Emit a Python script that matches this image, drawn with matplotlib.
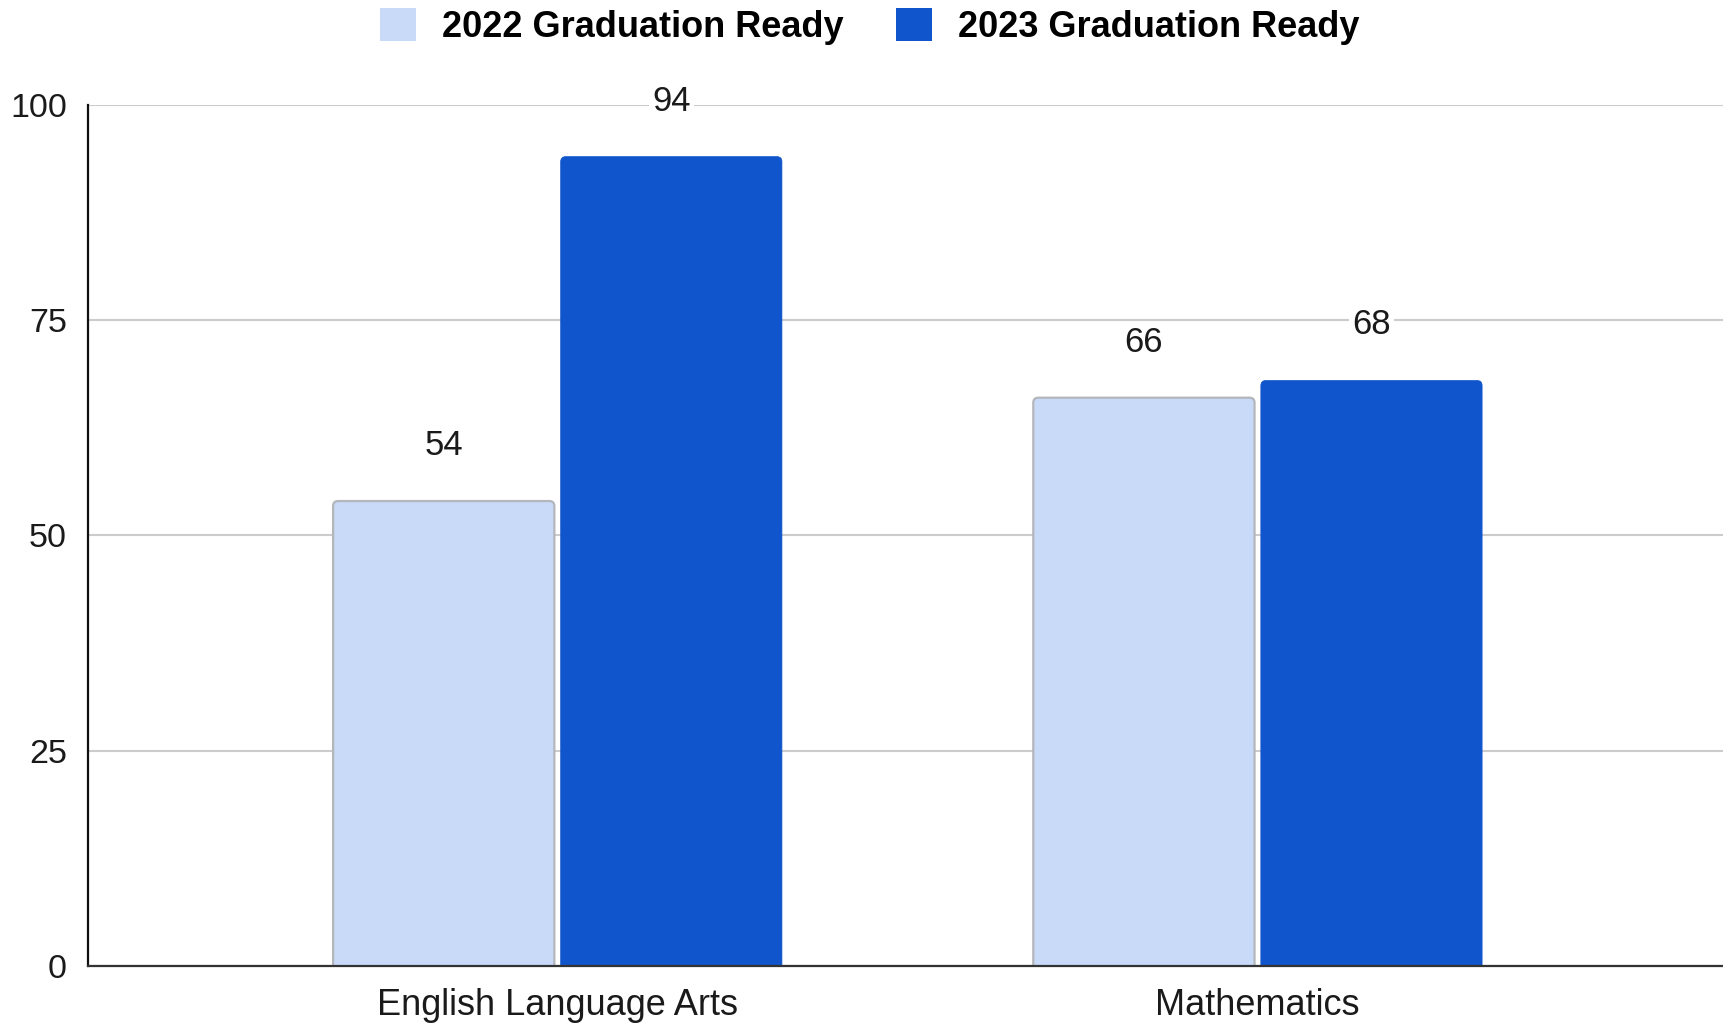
import matplotlib
matplotlib.use("Agg")
import matplotlib.pyplot as plt
import numpy as np
from matplotlib.patches import Patch, FancyBboxPatch

categories = ["English Language Arts", "Mathematics"]
series_names = ["2022 Graduation Ready", "2023 Graduation Ready"]
values_2022 = [54, 66]
values_2023 = [94, 68]
yticks = [0, 25, 50, 75, 100]

c_light = "#c9daf8"
c_dark = "#1155cc"

plt.rcParams['font.family'] = ['Liberation Sans', 'DejaVu Sans']

fig = plt.figure(figsize=(17.24, 10.27), dpi=100)
ax = fig.add_axes([0.051, 0.0594, 0.949, 0.8384])

ax.set_ylim(0, 100)
ax.set_xlim(-0.6707, 1.666)

x = np.arange(len(categories))
w = 0.316
off = 0.1625
b1 = ax.bar(x - off, values_2022, width=w, color=c_light, edgecolor="#b3b6bb",
            linewidth=1.6, zorder=2)
b2 = ax.bar(x + off, values_2023, width=w, color=c_dark, edgecolor=c_dark,
            linewidth=0.5, zorder=2)

# rounded top corners: rebuild each bar from its own geometry
fig.canvas.draw()
bb = ax.get_window_extent()
xl, yl = ax.get_xlim(), ax.get_ylim()
aspect = ((yl[1] - yl[0]) / bb.height) / ((xl[1] - xl[0]) / bb.width)
rad = 5 * (xl[1] - xl[0]) / bb.width
for bars in (b1, b2):
    for r in bars:
        p = FancyBboxPatch((r.get_x(), r.get_y() - 2), r.get_width(), r.get_height() + 2,
                           boxstyle=f"round,pad=0,rounding_size={rad}",
                           mutation_aspect=aspect,
                           facecolor=r.get_facecolor(), edgecolor=r.get_edgecolor(),
                           linewidth=r.get_linewidth(), zorder=2)
        ax.add_patch(p)
        r.set_visible(False)

for bars, vals in ((b1, values_2022), (b2, values_2023)):
    for r, v in zip(bars, vals):
        ax.annotate(f"{v}", (r.get_x() + r.get_width() / 2, r.get_height()),
                    xytext=(0, 40), textcoords="offset points",
                    ha="center", va="center", fontsize=25, color="#1a1a1a",
                    bbox=dict(boxstyle="square,pad=0.1", fc="white", ec="none"),
                    zorder=4)

ax.set_yticks(yticks)
ax.set_xticks(x)
ax.set_xticklabels(categories)
ax.tick_params(axis="y", length=0, labelsize=24.5, pad=15, labelcolor="#1a1a1a")
ax.tick_params(axis="x", length=0, labelsize=26, pad=16, labelcolor="#1a1a1a")
ax.yaxis.grid(True, color="#cccccc", linewidth=1.5, zorder=0)
ax.set_axisbelow(True)
for s in ("top", "right"):
    ax.spines[s].set_visible(False)
ax.spines["left"].set_color("#111111")
ax.spines["left"].set_linewidth(1.6)
ax.spines["bottom"].set_color("#333333")
ax.spines["bottom"].set_linewidth(1.6)
ax.spines["bottom"].set_zorder(3)

handles = [Patch(facecolor=c_light, edgecolor="none"),
           Patch(facecolor=c_dark, edgecolor="none")]
fig.legend(handles, series_names, loc="center", bbox_to_anchor=(0.5046, 0.974),
           ncol=2, frameon=False, handlelength=1.0, handleheight=1.0,
           handletextpad=0.72, columnspacing=1.44,
           prop={"weight": "bold", "size": 26})

fig.savefig("out.png", dpi=100, facecolor="white")
